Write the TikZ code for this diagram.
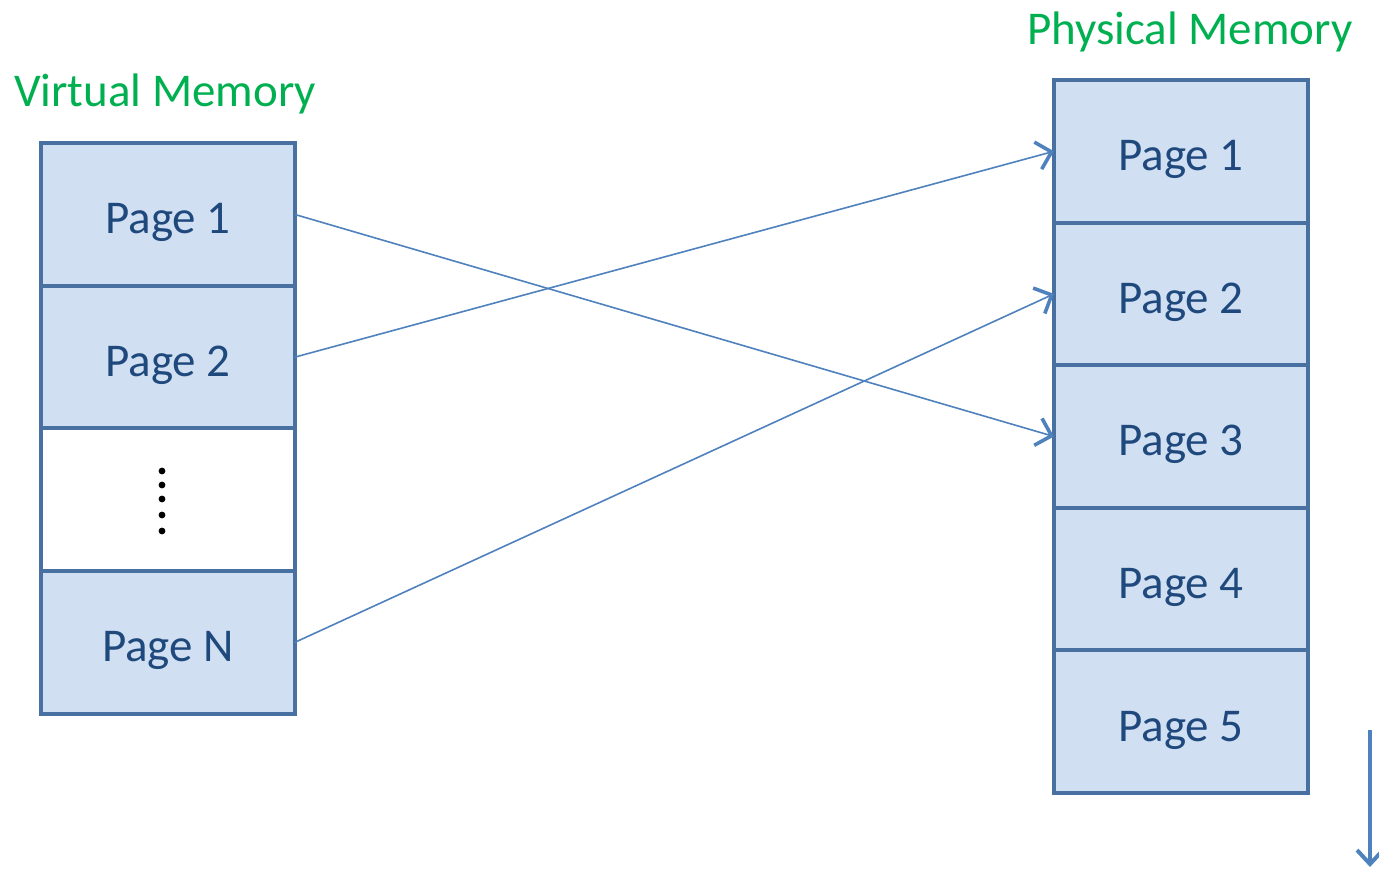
\documentclass[tikz,border=0pt]{standalone}
\usepackage{fontspec}
\setmainfont{Carlito}
\usetikzlibrary{arrows.meta,positioning}
\definecolor{pgfillblue}{RGB}{208,223,241}
\definecolor{pgedge}{RGB}{72,112,160}
\definecolor{pgtext}{RGB}{31,73,125}
\definecolor{pggreen}{RGB}{0,176,80}
\definecolor{pgarrow}{RGB}{79,129,189}
\tikzset{
  pgcell/.style={draw=pgedge, line width=2pt, fill=pgfillblue, text=pgtext, minimum width=127pt, minimum height=71.3pt, outer sep=0pt, inner sep=0pt, text height=25pt, text depth=5.6pt, font=\fontsize{23.5}{28}\selectfont},
  pgtitle/.style={text=pggreen, anchor=base, font=\fontsize{23.5}{28}\selectfont},
  pgarr/.style={-{Straight Barb[length=7pt,width=14pt,line width=1.8pt]}, line width=0.8pt, draw=pgarrow},
  pgdown/.style={-{Straight Barb[length=7pt,width=13pt,line width=2pt]}, line width=1.6pt, draw=pgarrow}
}
\begin{document}
\begin{tikzpicture}[x=0.5pt, y=-0.5pt]
  \useasboundingbox (0,0) rectangle (1379,871);
  % virtual memory column
  \node[pgtitle] (vtitle) at (165,107) {Virtual Memory};
  \node[pgcell] (vp1) at (168,214.5) {Page 1};
  \node[pgcell, below=0pt of vp1] (vp2) {Page 2};
  \node[pgcell, below=0pt of vp2, fill=white] (vgap) {};
  \node[pgcell, below=0pt of vgap] (vpn) {Page N};
  \foreach \y in {471,485,499,515,531}
    \fill (162,\y) circle (1.7pt);
  % physical memory column
  \node[pgtitle] (ptitle) at (1190,45) {Physical Memory};
  \node[pgcell] (pp1) at (1181,151.3) {Page 1};
  \node[pgcell, below=0pt of pp1] (pp2) {Page 2};
  \node[pgcell, below=0pt of pp2] (pp3) {Page 3};
  \node[pgcell, below=0pt of pp3] (pp4) {Page 4};
  \node[pgcell, below=0pt of pp4] (pp5) {Page 5};
  % page mappings
  \draw[pgarr] (vp1.east) -- (pp3.west);
  \draw[pgarr] (vp2.east) -- (pp1.west);
  \draw[pgarr] (vpn.east) -- (pp2.west);
  \coordinate (downtop) at (1370,730);
  \coordinate (downend) at (1370,867);
  \draw[pgdown] (downtop) -- (downend);
\end{tikzpicture}
\end{document}
